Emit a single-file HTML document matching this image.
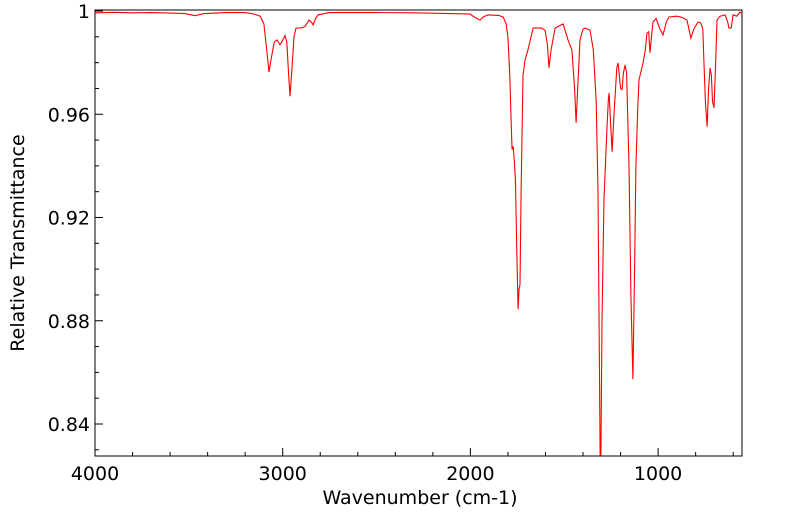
<!DOCTYPE html>
<html><head><meta charset="utf-8"><style>
body{margin:0;background:#fff;}
svg{display:block;font-family:"DejaVu Sans","Liberation Sans",sans-serif;}
</style></head><body>
<svg id="chart" width="799" height="516">
<rect x="95" y="10" width="647" height="446" fill="#fff" stroke="#000" stroke-width="1"/>
<g id="ticks"></g>
<path id="line" fill="none" stroke="#ff0000" stroke-width="1.1"/>
<text x="420" y="504" font-size="19" text-anchor="middle">Wavenumber (cm-1)</text>
<text x="24" y="243" font-size="19" text-anchor="middle" transform="rotate(-90 24 243)">Relative Transmittance</text>
</svg>
<script>
const wavenumbers=[4000,3900,3800,3700,3600,3520,3467,3420,3300,3200,3150,3120,3100,3085,3073,3060,3045,3030,3015,3005,2988,2978,2968,2961,2953,2940,2929,2900,2881,2860,2845,2838,2825,2812,2750,2500,2300,2109,2002,1975,1949,1930,1906,1850,1826,1810,1800,1790,1782,1778,1772,1766,1760,1752,1746,1741,1736,1730,1720,1709,1693,1666,1620,1602,1590,1581,1570,1549,1506,1480,1459,1445,1437,1425,1416,1400,1389,1363,1345,1330,1320,1312,1309,1305,1299,1288,1272,1265,1261,1252,1245,1235,1220,1213,1200,1192,1185,1176,1168,1155,1145,1134,1125,1118,1108,1102,1080,1068,1059,1050,1043,1035,1027,1011,990,974,955,942,900,870,846,836,825,810,788,775,771,762,755,748,739,731,723,716,710,702,696,686,670,643,630,622,610,601,580,565,553];
const transmittance=[.9993,.9995,.9993,.9994,.9992,.9990,.9982,.9990,.9994,.9994,.9988,.998,.995,.985,.9764,.982,.988,.9888,.987,.988,.9905,.988,.975,.967,.975,.990,.9934,.9935,.994,.9965,.9955,.9946,.997,.9985,.9994,.9994,.9993,.9990,.9988,.9975,.9965,.9978,.9985,.9983,.9977,.995,.990,.975,.955,.9463,.9475,.9420,.935,.905,.8844,.892,.894,.930,.975,.981,.985,.9934,.9934,.9925,.987,.978,.985,.9934,.995,.9888,.9849,.970,.9567,.975,.9888,.9930,.9934,.9926,.985,.965,.930,.86,.828,.828,.88,.927,.955,.9660,.9683,.955,.9455,.960,.978,.9799,.970,.9695,.976,.9791,.976,.940,.890,.8574,.900,.940,.963,.9733,.980,.9849,.9915,.9920,.9838,.990,.9957,.9972,.9930,.9907,.9960,.9977,.9980,.9975,.9965,.993,.9895,.9930,.9957,.9955,.9950,.993,.9784,.965,.9552,.970,.9780,.975,.965,.9625,.975,.9965,.998,.9985,.996,.9934,.9935,.9985,.998,.9995,.9993];
const xTickLabels=[4000,3000,2000,1000];
const yTickLabels=[0.84,0.88,0.92,0.96,1];
const X0=95,X1=742,Y0=10,Y1=456,XMAX=4000,XMIN=553,YMIN=0.8276,YMAX=1.0004;
function xs(w){return X0+(XMAX-w)/(XMAX-XMIN)*(X1-X0);}
function ys(v){return Y1-(v-YMIN)/(YMAX-YMIN)*(Y1-Y0);}
const NS="http://www.w3.org/2000/svg";
const g=document.getElementById('ticks');
function ln(x1,y1,x2,y2,name){const l=document.createElementNS(NS,'line');l.setAttribute('x1',x1);l.setAttribute('y1',y1);l.setAttribute('x2',x2);l.setAttribute('y2',y2);l.setAttribute('stroke','#000');


g.appendChild(l);}
function tx(x,y,s,anchor,name){const t=document.createElementNS(NS,'text');t.setAttribute('x',x);t.setAttribute('y',y);t.setAttribute('font-size','19');t.setAttribute('text-anchor',anchor);t.textContent=s;


g.appendChild(t);}
for(let w=4000;w>=XMIN;w-=200){const x=xs(w);const major=w%1000===0;ln(x,Y1,x,Y1-(major?8:4),'x-tick');}
xTickLabels.forEach(w=>tx(xs(w),480,String(w),'middle','x-tick-label'));
for(let k=83;k<=100;k++){const v=k/100;const y=ys(v);const major=(k%4===0);ln(X0,y,X0+(major?8:4),y,'y-tick');}
yTickLabels.forEach(v=>tx(90,ys(v)+7,v===1?'1':String(v),'end','y-tick-label'));
let d='';
for(let i=0;i<wavenumbers.length;i++){const y=Math.max(Y0,Math.min(Y1,ys(transmittance[i])));d+=(i?'L':'M')+xs(wavenumbers[i]).toFixed(1)+','+y.toFixed(1);}
document.getElementById('line').setAttribute('d',d);
</script>
</body></html>
